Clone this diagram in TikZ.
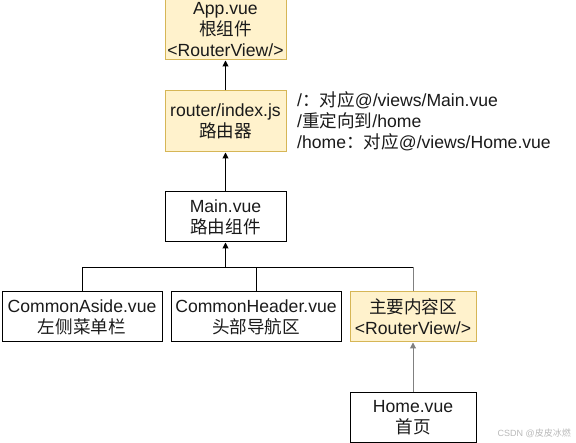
\documentclass[tikz,border=0pt]{standalone}
\usepackage{fontspec}
\setmainfont{Liberation Sans}
\newfontfamily\cjk{Noto Sans CJK SC}[Scale=1.0]
\usetikzlibrary{positioning,arrows.meta}
\newcommand{\zh}[1]{{\cjk #1}}
\definecolor{boxfill}{HTML}{FFF2CC}
\definecolor{boxline}{HTML}{D6B656}
\definecolor{txt}{HTML}{1A1A1A}

\begin{document}
\begin{tikzpicture}[x=1pt, y=1pt,
    font=\fontsize{17.6}{21}\selectfont, text=txt,
    comp/.style={draw, line width=1pt, align=center, minimum height=50pt, inner sep=0pt},
    root/.style={comp, fill=boxfill, draw=boxline},
    link/.style={line width=1pt, -{Triangle[length=6pt, width=6pt]}}]
  \useasboundingbox (0,0) rectangle (576,-443);
    % Nodes
    \node[comp, minimum width=121pt] (main) at (225.5,-217) {Main.vue\\\zh{路由组件}} ; %
    \node[root, minimum width=121pt, minimum height=61pt, above=39pt of main] (router) {router/index.js\\\zh{路由器}} ; %
    \node[root, minimum width=121pt, minimum height=60pt, above=30pt of router] (app) {App.vue\\\zh{根组件}\\<RouterView/>} ; %
    \node[comp, minimum width=160pt] (aside) at (82,-317) {CommonAside.vue\\\zh{左侧菜单栏}} ; %
    \node[comp, minimum width=170pt] (header) at (256,-317) {CommonHeader.vue\\\zh{头部导航区}} ; %
    \node[root, minimum width=126pt] (content) at (413,-317) {\zh{主要内容区}\\<RouterView/>} ; %
    \node[comp, minimum width=126pt, below=50pt of content] (home) {Home.vue\\\zh{首页}} ; %
    \node[anchor=west, align=left, inner sep=0pt] (routes) at (297,-121.5)
      {/\zh{：对应}@/views/Main.vue\\/\zh{重定向到}/home\\/home\zh{：对应}@/views/Home.vue} ; %
    \node[anchor=east, inner sep=0pt, text=gray!55, font=\fontsize{9}{10}\selectfont] (mark) at (571,-433)
      {CSDN @\zh{皮皮冰燃}} ; %
    \coordinate[below=25pt of main] (bus) ; %
    % Edges
    \draw[link] (router) -- (app) ; %
    \draw[link] (main) -- (router) ; %
    \draw[link] (bus) -- (main) ; %
    \draw[line width=1pt] (aside.north) |- (content.north |- bus) ; %
    \draw[line width=1pt] (header.north) -- (header.north |- bus) ; %
    \draw[line width=1pt, gray] (content.north) -- (content.north |- bus) ; %
    \draw[link, gray] (home) -- (content) ; %
  \end{tikzpicture}
\end{document}
